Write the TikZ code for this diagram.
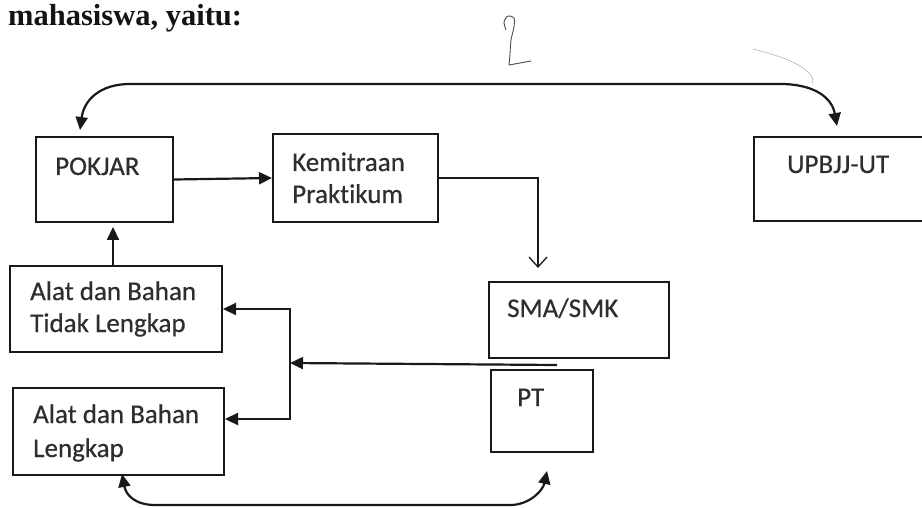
\documentclass[tikz,border=0pt]{standalone}
\usepackage{fontspec}
\setmainfont[RawFeature=-liga]{Carlito}
\newfontfamily\labelfont[RawFeature=-liga, FakeBold=0.5]{Carlito}
\newfontfamily\headfont{Liberation Serif}
\usetikzlibrary{arrows.meta,calc}
\begin{document}
\begin{tikzpicture}[x=1pt,y=-1pt,
  box/.style={draw=black!90, line width=2pt, anchor=north west, inner sep=0pt},
  lbl/.style={anchor=base west, inner sep=0pt, font=\labelfont\fontsize{27}{32}\selectfont, text=black!82},
  conn/.style={line width=2.2pt, draw=black!90},
  tip/.style={-{Triangle[length=13pt,width=12pt]}},
  tips/.style={{Triangle[length=13pt,width=12pt]}-{Triangle[length=13pt,width=12pt]}},
  pencil/.style={line width=0.9pt, draw=black!70, line cap=round, line join=round}
]
\useasboundingbox (0,0) rectangle (922,508);
\clip (0,0) rectangle (922,508);

% header
\node[anchor=base west, inner sep=0pt, font=\headfont\bfseries\fontsize{30.5}{32}\selectfont, text=black!92] (head) at (8,26) {mahasiswa, yaitu:};

% boxes
\node[box, minimum width=137pt, minimum height=85pt] (pokjar) at (35,136) {};
\node[box, minimum width=165pt, minimum height=88pt] (kem) at (272,133) {};
\node[box, minimum width=212pt, minimum height=86pt] (tidak) at (9,265) {};
\node[box, minimum width=211pt, minimum height=87pt] (lengkap) at (12,387) {};
\node[box, minimum width=180pt, minimum height=76pt] (sma) at (488,281) {};
\node[box, minimum width=102pt, minimum height=82pt] (pt) at (490,369) {};
\node[box, minimum width=190pt, minimum height=84pt] (upbjj) at (753,136) {};

% labels
\node[lbl] (pokjarT) at (55,175) {POKJAR};
\node[lbl] (kemT1) at (292,171) {Kemitraan};
\node[lbl] (kemT2) at (292,203) {Praktikum};
\node[lbl] (tidakT1) at (30,300) {Alat dan Bahan};
\node[lbl] (tidakT2) at (30,332) {Tidak Lengkap};
\node[lbl] (lengkapT1) at (33,423) {Alat dan Bahan};
\node[lbl] (lengkapT2) at (33,457) {Lengkap};
\node[lbl] (smaT) at (507,317) {SMA/SMK};
\node[lbl] (ptT) at (517,406) {PT};
\node[lbl] (upbjjT) at (787,173) {UPBJJ-UT};

% top double arrow
\draw[conn, tips] ($(pokjar.north west)+(45,-6)$) .. controls (84,100) and (100,84) .. (130,84)
  -- (780,84) .. controls (815,84) and (832,98) .. ($(upbjj.north west)+(84,-10)$);

% POKJAR -> Kemitraan
\draw[conn, tip] (pokjar.east) -- (kem.west);

% Kemitraan -> SMA/SMK
\draw[line width=1.3pt, draw=black!90, -{Straight Barb[length=10pt,width=18pt]}]
  (kem.east) -| ($(sma.north west)+(50,-13)$);

% Alat Tidak Lengkap -> POKJAR
\draw[conn, tip] ($(tidak.north west)+(104,0)$) -- ($(pokjar.south west)+(78,4)$);

% branch from SMA/PT
\coordinate (src) at ($(sma.south west)+(69,6)$);
\coordinate (jn) at (290,363);
\draw[conn, tip] (src) -- (jn);
\draw[conn, tip] (jn) |- (tidak.east);
\draw[conn, tip] (jn) |- ($(lengkap.north east)+(0,32)$);

% bottom double arrow
\draw[conn, tips] ($(lengkap.south west)+(110,-2)$) .. controls (126,495) and (135,505) .. (155,505)
  -- (510,505) .. controls (530,505) and (543,490) .. ($(pt.south west)+(57,18)$);

% handwritten marks
\draw[pencil] plot[smooth] coordinates {(506,30) (504,22) (508,16) (514,18) (514,27) (511,40) (510,54) (509,65)};
\draw[pencil] (509,65) -- (531,61);
\draw[line width=0.5pt, draw=black!35] (753,49) .. controls (790,58) and (815,70) .. (813,84);
\end{tikzpicture}
\end{document}
